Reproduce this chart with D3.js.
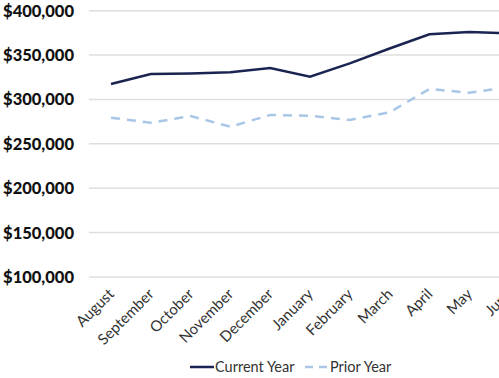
<!DOCTYPE html>
<html><head><meta charset="utf-8">
<script src="https://cdn.jsdelivr.net/npm/d3@7"></script>
<style>body{margin:0;background:#fff}</style>
</head><body><svg id="c" width="499" height="378"></svg>
<script>
const months = ["August","September","October","November","December","January","February","March","April","May","June"];
const currentYear = [317400,328700,329300,330600,335400,325600,340700,357400,373400,376000,374500];
const priorYear = [279500,273800,281400,269300,282500,281700,276900,285500,311800,307600,314000];
const yTicks = [100000,150000,200000,250000,300000,350000,400000];

const svg = d3.select("#c");
const x = d3.scalePoint().domain(months).range([111, 509]);
const y = d3.scaleLinear().domain([100000,400000]).range([277, 10.7]);

// grid
svg.append("g").selectAll("line").data(yTicks).join("line")
  .attr("x1", 89).attr("x2", 499)
  .attr("y1", d=>y(d)).attr("y2", d=>y(d))
  .attr("stroke", "#dedede").attr("stroke-width", 1.5);

// y labels
const fmt = d3.format("$,");
svg.append("g").selectAll("text").data(yTicks).join("text")
  .attr("x", 74).attr("y", d=>y(d)).attr("dy", "0.36em")
  .attr("text-anchor", "end")
  .attr("font-family", "Lato, sans-serif").attr("font-weight", 900)
  .attr("font-size", 16.5).attr("fill", "#111")
  .text(d=>fmt(d));

// x labels
svg.append("g").selectAll("text").data(months).join("text")
  .attr("transform", d=>`translate(${x(d)+4},${295}) rotate(-45)`)
  .attr("text-anchor", "end")
  .attr("font-family", "Lato, sans-serif")
  .attr("font-size", 15).attr("fill", "#333")
  .text(d=>d);

const line = d3.line().x((d,i)=>x(months[i])).y(d=>y(d));
svg.append("path").datum(priorYear).attr("d", line)
  .attr("fill","none").attr("stroke","#a9c6e6").attr("stroke-width",2.5)
  .attr("stroke-dasharray","9,7");
svg.append("path").datum(currentYear).attr("d", line)
  .attr("fill","none").attr("stroke","#1b2451").attr("stroke-width",2.5);

// legend
const lg = svg.append("g").attr("font-family","Lato, sans-serif").attr("font-size",14.5).attr("fill","#333");
lg.append("line").attr("x1",190).attr("x2",214).attr("y1",367).attr("y2",367)
  .attr("stroke","#1b2451").attr("stroke-width",2.5);
lg.append("text").attr("x",215).attr("y",367).attr("dy","0.35em").text("Current Year");
lg.append("line").attr("x1",305).attr("x2",329).attr("y1",367).attr("y2",367)
  .attr("stroke","#a9c6e6").attr("stroke-width",2.5).attr("stroke-dasharray","8,6");
lg.append("text").attr("x",330).attr("y",367).attr("dy","0.35em").text("Prior Year");
</script></body></html>
